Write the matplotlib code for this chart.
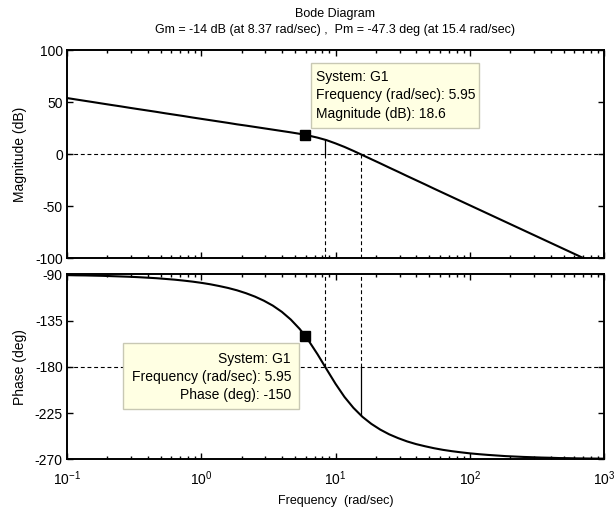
import matplotlib
matplotlib.use("Agg")
import matplotlib.pyplot as plt
from matplotlib.ticker import FixedLocator, FixedFormatter, LogLocator, NullFormatter
from matplotlib.patches import Rectangle

plt.rcParams['font.family'] = ['Liberation Sans', 'DejaVu Sans']
plt.rcParams['mathtext.default'] = 'regular'
plt.rcParams['axes.unicode_minus'] = False

# ---- data ----
freq = [0.1, 0.117, 0.136, 0.158, 0.185, 0.215, 0.251, 0.293, 0.341, 0.398,
        0.464, 0.541, 0.631, 0.736, 0.858, 1.0, 1.166, 1.359, 1.585, 1.848,
        2.154, 2.512, 2.929, 3.415, 3.981, 4.642, 5.412, 5.95, 6.31, 7.356,
        8.577, 10.0, 11.659, 13.594, 15.849, 18.478, 21.544, 25.119, 29.286,
        34.145, 39.811, 46.416, 54.117, 63.096, 73.564, 85.77, 100.0, 116.59,
        135.94, 158.49, 184.79, 215.44, 251.19, 292.86, 341.46, 398.11, 464.16,
        541.17, 630.96, 735.64, 857.7, 1000.0]
magnitude_db = [54.1, 52.7, 51.4, 50.1, 48.7, 47.4, 46.1, 44.7, 43.4, 42.1,
                40.8, 39.4, 38.1, 36.8, 35.4, 34.1, 32.8, 31.5, 30.2, 28.8,
                27.6, 26.3, 25.0, 23.7, 22.4, 21.1, 19.7, 18.6, 18.0, 16.0,
                13.6, 10.5, 7.1, 3.3, -0.7, -4.7, -8.7, -12.8, -16.8,
                -20.9, -24.9, -28.9, -33.0, -37.0, -41.0, -45.0, -49.0, -53.0,
                -57.0, -61.0, -65.0, -69.0, -73.0, -77.0, -81.0, -85.0, -89.0,
                -93.0, -97.0, -101.0, -105.0, -109.0]
phase_deg = [-90.8, -91.0, -91.1, -91.3, -91.5, -91.8, -92.1, -92.4, -92.8, -93.3,
             -93.8, -94.5, -95.2, -96.1, -97.1, -98.3, -99.7, -101.4, -103.3, -105.6,
             -108.4, -111.7, -115.7, -120.5, -126.5, -134.0, -143.2, -150.0, -154.6, -167.9,
             -182.3, -196.5, -209.3, -219.9, -228.6, -235.5, -241.1, -245.7, -249.4,
             -252.6, -255.2, -257.3, -259.2, -260.8, -262.1, -263.2, -264.2, -265.0,
             -265.7, -266.3, -266.9, -267.3, -267.7, -268.0, -268.3, -268.5, -268.8,
             -268.9, -269.1, -269.2, -269.3, -269.4]

gm_freq = 8.37        # phase crossover (rad/sec)
gm_mag = 14.0         # magnitude at phase crossover (dB)
pm_freq = 15.4        # gain crossover (rad/sec)
pm_phase = -227.3     # phase at gain crossover (deg)

tip_freq = 5.95
tip_mag = 18.6
tip_phase = -150.0

x_ticks = [0.1, 1, 10, 100, 1000]
x_ticklabels = [r'$10^{-1}$', r'$10^{0}$', r'$10^{1}$', r'$10^{2}$', r'$10^{3}$']
mag_ticks = [-100, -50, 0, 50, 100]
phase_ticks = [-270, -225, -180, -135, -90]

title1 = "Bode Diagram"
title2 = "Gm = -14 dB (at 8.37 rad/sec) ,  Pm = -47.3 deg (at 15.4 rad/sec)"
top_tip = "System: G1\nFrequency (rad/sec): 5.95\nMagnitude (dB): 18.6"
bot_tip = "System: G1\nFrequency (rad/sec): 5.95\nPhase (deg): -150"

# ---- figure ----
W, H = 615, 508
fig = plt.figure(figsize=(W / 100, H / 100), dpi=100)
fs_title = 9
fs = 10
tip_fs = 10

def px_axes(x0, y0, x1, y1):
    return fig.add_axes([x0 / W, 1 - y1 / H, (x1 - x0) / W, (y1 - y0) / H])

ax1 = px_axes(67, 50.3, 604, 258.3)
ax2 = px_axes(67, 274.3, 604, 459.3)

dash = (0, (3.5, 2.5))
for ax in (ax1, ax2):
    ax.set_xscale('log')
    ax.set_xlim(0.1, 1000)
    ax.xaxis.set_major_locator(FixedLocator(x_ticks))
    ax.xaxis.set_minor_locator(LogLocator(base=10, subs=range(2, 10), numticks=20))
    ax.xaxis.set_minor_formatter(NullFormatter())
    ax.tick_params(which='both', direction='in', top=True, right=True,
                   labelsize=fs, width=1.0)
    ax.tick_params(axis='y', pad=3)
    ax.tick_params(axis='x', pad=7)
    ax.tick_params(which='major', length=4)
    ax.tick_params(which='minor', length=2.5)
    for sp in ax.spines.values():
        sp.set_linewidth(1.4)

# magnitude
ax1.plot(freq, magnitude_db, color='black', lw=1.5, zorder=3)
ax1.set_ylim(-100, 100)
ax1.set_yticks(mag_ticks)
ax1.xaxis.set_major_formatter(NullFormatter())
ax1.set_ylabel("Magnitude (dB)", fontsize=fs)
ax1.axhline(0, color='black', lw=0.8, ls=dash, zorder=2)
ax1.plot([gm_freq, gm_freq], [0, gm_mag], color='black', lw=0.9, zorder=2)
ax1.plot([gm_freq, gm_freq], [-100, 0], color='black', lw=0.8, ls=dash, zorder=2)
ax1.plot([pm_freq, pm_freq], [-100, 0], color='black', lw=0.8, ls=dash, zorder=2)
ax1.plot([tip_freq], [tip_mag], marker='s', ms=6.5, color='black', zorder=5)

# phase
ax2.plot(freq, phase_deg, color='black', lw=1.5, zorder=3)
ax2.set_ylim(-270, -90)
ax2.set_yticks(phase_ticks)
ax2.xaxis.set_major_formatter(FixedFormatter(x_ticklabels))
ax2.set_ylabel("Phase (deg)", fontsize=fs)
ax2.set_xlabel("Frequency  (rad/sec)", fontsize=9)
ax2.xaxis.set_label_coords(0.5, -0.192)
ax2.axhline(-180, color='black', lw=0.8, ls=dash, zorder=2)
ax2.plot([gm_freq, gm_freq], [-180, -90], color='black', lw=0.8, ls=dash, zorder=2)
ax2.plot([pm_freq, pm_freq], [-180, -90], color='black', lw=0.8, ls=dash, zorder=2)
ax2.plot([pm_freq, pm_freq], [pm_phase, -180], color='black', lw=0.9, zorder=2)
ax2.plot([tip_freq], [tip_phase], marker='s', ms=6.5, color='black', zorder=5)

# align y labels
ax1.yaxis.set_label_coords(-0.074, 0.5)
ax2.yaxis.set_label_coords(-0.074, 0.5)

# titles
fig.text(335 / W, 1 - 14 / H, title1, ha='center', va='center', fontsize=fs_title)
fig.text(335 / W, 1 - 30 / H, title2, ha='center', va='center', fontsize=fs_title)

# data tips
tip_face = '#FFFFE3'
tip_edge = '#C8C8B4'
r1 = Rectangle((310.5 / W, 1 - 128 / H), (479 - 310.5) / W, (128 - 62.5) / H,
               transform=fig.transFigure, facecolor=tip_face, edgecolor=tip_edge,
               lw=1.0, zorder=10)
fig.add_artist(r1)
fig.text(316 / W, 1 - 95.5 / H, top_tip, ha='left', va='center', fontsize=tip_fs,
         linespacing=1.4, zorder=11)
r2 = Rectangle((123 / W, 1 - 409 / H), (299 - 123) / W, (409 - 343) / H,
               transform=fig.transFigure, facecolor=tip_face, edgecolor=tip_edge,
               lw=1.0, zorder=10)
fig.add_artist(r2)
fig.text(291 / W, 1 - 377 / H, bot_tip, ha='right', va='center', fontsize=tip_fs,
         linespacing=1.4, multialignment='right', zorder=11)

fig.savefig("out.png", dpi=100)
